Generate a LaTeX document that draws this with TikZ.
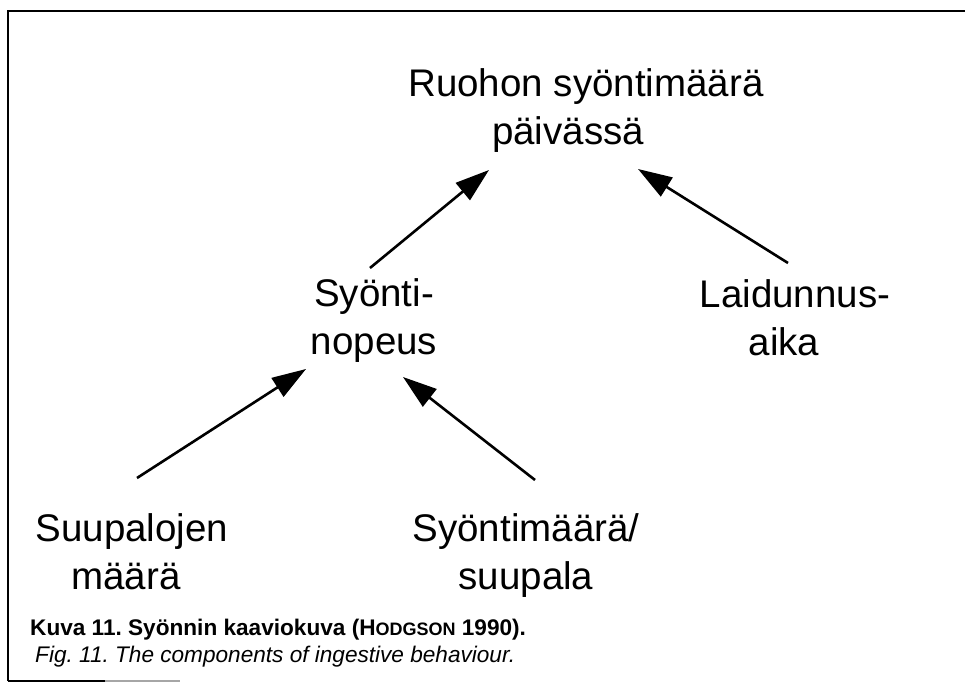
\documentclass[tikz,border=0pt]{standalone}
\usepackage{fontspec}
\setmainfont{Liberation Sans}
\usetikzlibrary{arrows.meta,calc}
\frenchspacing
\begin{document}
\begin{tikzpicture}[x=1pt,y=-1pt,
  lbl/.style={font=\fontsize{38.5}{48}\selectfont, align=center, inner sep=0pt, anchor=base},
  arr/.style={line width=2.6pt, -{Triangle[length=34pt,width=22pt]}},
  framel/.style={line width=2pt, black},
  captext/.style={inner sep=0pt, anchor=base west}]
\useasboundingbox (0,0) rectangle (965,684);
\fill[white] (0,0) rectangle (965,684);
% frame
\draw[framel] (8,681) -- (8,11) -- (965,11);
\draw[framel] (8,681) -- (105,681);
\draw[line width=1.5pt, black!35] (105,681) -- (180,681);
% labels (base = baseline of the last line)
\node[lbl] (ruohon) at (586,145) {Ruohon syöntimäärä\\\hspace*{-36pt}päivässä};
\node[lbl] (syonti) at (374,354) {Syönti-\\nopeus};
\node[lbl] (laid) at (795,355) {Laidunnus-\\\hspace*{-22pt}aika};
\node[lbl] (suup) at (132,589) {Suupalojen\\\hspace*{-12pt}määrä};
\node[lbl] (symaara) at (526,589) {Syöntimäärä/\\suupala};
% captions
\node[captext, font=\bfseries\fontsize{22.6}{27}\selectfont] (kuva) at (30,635)
  {Kuva 11. Syönnin kaaviokuva (H{\fontsize{18}{20}\selectfont ODGSON} 1990).};
\node[captext, font=\itshape\fontsize{22.6}{27}\selectfont] (fig) at (35,662)
  {Fig. 11. The components of ingestive behaviour.};
% arrows
\draw[arr] ($(syonti.base)+(-4,-86)$) -- ($(ruohon.base)+(-97,25)$);
\draw[arr] ($(laid.base)+(-7,-92)$) -- ($(ruohon.base)+(52,24)$);
\draw[arr] ($(suup.base)+(5,-111)$) -- ($(syonti.base)+(-68,15)$);
\draw[arr] ($(symaara.base)+(9,-109)$) -- ($(syonti.base)+(29,23)$);
\end{tikzpicture}
\end{document}
